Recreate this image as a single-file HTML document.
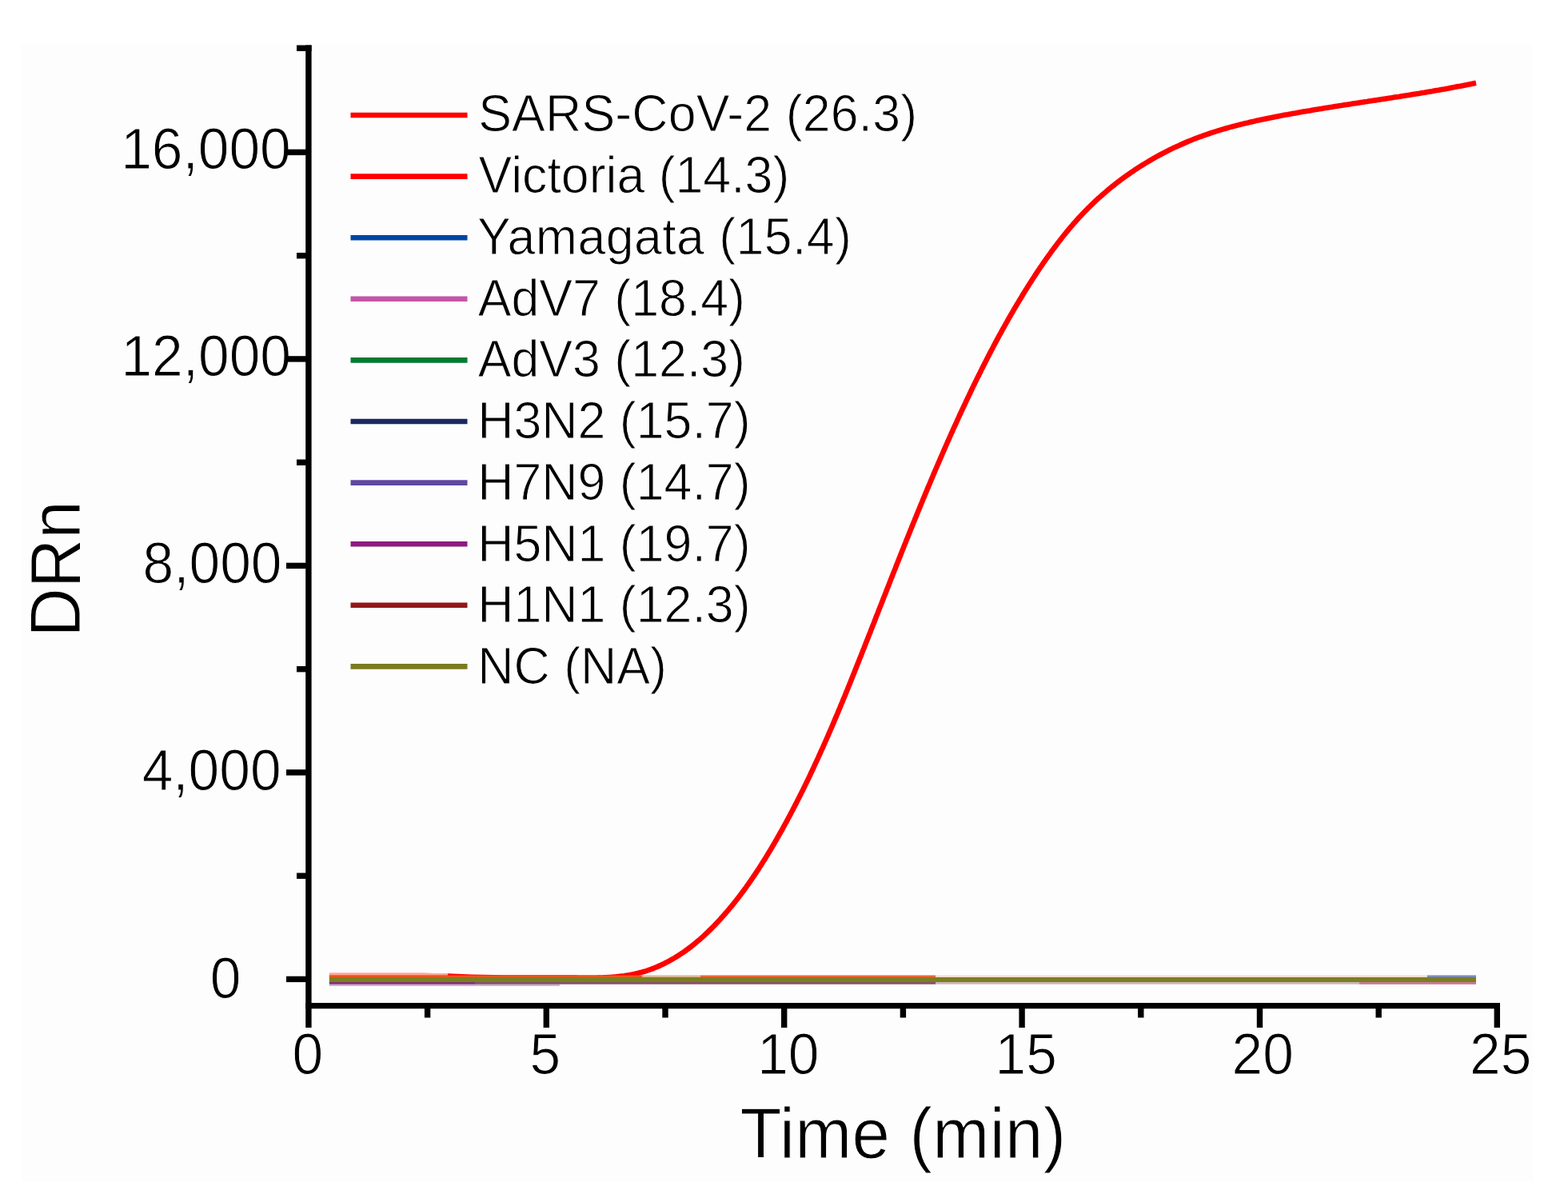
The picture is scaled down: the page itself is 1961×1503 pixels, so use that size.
<!DOCTYPE html>
<html><head><meta charset="utf-8"><title>DRn vs Time</title>
<style>html,body{margin:0;padding:0;background:#fff;width:1961px;height:1503px;overflow:hidden}svg{display:block}</style>
</head><body>
<svg width="1961" height="1503" viewBox="0 0 1961 1503">
<rect x="0" y="0" width="1961" height="1503" fill="#ffffff"/>
<rect x="27" y="55.5" width="1891" height="1422" fill="#fdfdfd"/>
<g font-family='"Liberation Sans", Arial, Helvetica, sans-serif' fill="#000">
<text id="yl0" transform="translate(151.20,210.80) scale(1,1.0410)" font-size="69.5" stroke="#fdfdfd" stroke-width="1.0">16,000</text>
<text id="yl1" transform="translate(151.40,470.00) scale(1,1.0410)" font-size="69.5" stroke="#fdfdfd" stroke-width="1.0">12,000</text>
<text id="yl2" transform="translate(178.60,729.10) scale(1,1.0410)" font-size="69.5" stroke="#fdfdfd" stroke-width="1.0">8,000</text>
<text id="yl3" transform="translate(177.65,988.30) scale(1,1.0410)" font-size="69.5" stroke="#fdfdfd" stroke-width="1.0">4,000</text>
<text id="yl4" transform="translate(262.80,1247.50) scale(1,1.0410)" font-size="69.5" stroke="#fdfdfd" stroke-width="1.0">0</text>
<text id="xl0" transform="translate(365.60,1343.30) scale(1,1.0410)" font-size="69.5" stroke="#fdfdfd" stroke-width="1.0">0</text>
<text id="xl1" transform="translate(662.40,1343.30) scale(1,1.0410)" font-size="69.5" stroke="#fdfdfd" stroke-width="1.0">5</text>
<text id="xl2" transform="translate(947.20,1343.30) scale(1,1.0410)" font-size="69.5" stroke="#fdfdfd" stroke-width="1.0">10</text>
<text id="xl3" transform="translate(1244.60,1343.30) scale(1,1.0410)" font-size="69.5" stroke="#fdfdfd" stroke-width="1.0">15</text>
<text id="xl4" transform="translate(1540.60,1343.30) scale(1,1.0410)" font-size="69.5" stroke="#fdfdfd" stroke-width="1.0">20</text>
<text id="xl5" transform="translate(1838.00,1343.30) scale(1,1.0410)" font-size="69.5" stroke="#fdfdfd" stroke-width="1.0">25</text>
<text id="ttl_y" transform="translate(100.30,796.80) rotate(-90) scale(1,1.0410)" font-size="85.3" stroke="#fdfdfd" stroke-width="1.0">DRn</text>
<text id="ttl_x" transform="translate(925.60,1448.40) scale(1,1.0410)" font-size="85.3" stroke="#fdfdfd" stroke-width="1.0" textLength="407.61">Time (min)</text>
</g>
<g id="axes" stroke="#000" stroke-width="7.4" fill="none" stroke-linecap="butt">
<line x1="385.9" y1="56.5" x2="385.9" y2="1285"/>
<line x1="382.2" y1="1257.6" x2="1876" y2="1257.6"/>
<line x1="358" y1="1224.4" x2="386" y2="1224.4"/>
<line x1="358" y1="965.9" x2="386" y2="965.9"/>
<line x1="358" y1="707.4" x2="386" y2="707.4"/>
<line x1="358" y1="448.9" x2="386" y2="448.9"/>
<line x1="358" y1="190.4" x2="386" y2="190.4"/>
<line x1="371" y1="1095.2" x2="386" y2="1095.2"/>
<line x1="371" y1="836.7" x2="386" y2="836.7"/>
<line x1="371" y1="578.2" x2="386" y2="578.2"/>
<line x1="371" y1="319.7" x2="386" y2="319.7"/>
<line x1="371" y1="60.2" x2="389.6" y2="60.2"/>
<line x1="683.3" y1="1257" x2="683.3" y2="1285"/>
<line x1="980.7" y1="1257" x2="980.7" y2="1285"/>
<line x1="1278.1" y1="1257" x2="1278.1" y2="1285"/>
<line x1="1575.5" y1="1257" x2="1575.5" y2="1285"/>
<line x1="1872.3" y1="1254" x2="1872.3" y2="1285"/>
<line x1="534.6" y1="1257" x2="534.6" y2="1272.5"/>
<line x1="832.0" y1="1257" x2="832.0" y2="1272.5"/>
<line x1="1129.4" y1="1257" x2="1129.4" y2="1272.5"/>
<line x1="1426.8" y1="1257" x2="1426.8" y2="1272.5"/>
<line x1="1724.2" y1="1257" x2="1724.2" y2="1272.5"/>
</g>
<g id="data" fill="none" stroke-linecap="butt">
<line x1="411.8" y1="1231.8" x2="700" y2="1231.8" stroke="#c6b2d8" stroke-width="2.4"/>
<line x1="411.8" y1="1229.3" x2="594" y2="1229.3" stroke="#863070" stroke-width="2.8"/>
<line x1="594" y1="1229.3" x2="1170" y2="1229.3" stroke="#885068" stroke-width="2.8"/>
<line x1="1170" y1="1229.3" x2="1846" y2="1229.3" stroke="#cdb3b8" stroke-width="2.8"/>
<line x1="1700" y1="1229.3" x2="1846" y2="1229.3" stroke="#c77a95" stroke-width="2.8"/>
<line x1="803" y1="1221.0" x2="876" y2="1221.0" stroke="#d9b78f" stroke-width="2.8"/>
<line x1="876" y1="1221.0" x2="1170" y2="1221.0" stroke="#ef6433" stroke-width="2.8"/>
<line x1="1170" y1="1221.0" x2="1846" y2="1221.0" stroke="#f4dccf" stroke-width="2.8"/>
<line x1="1785" y1="1221.0" x2="1846" y2="1221.0" stroke="#7d8cb6" stroke-width="2.8"/>
<path d="M412.0,1220.0 L530.0,1220.0 L560.0,1220.6 L590.0,1221.8 L630.0,1222.6 L690.0,1222.6 L692.5,1222.5 L695.0,1222.5 L697.5,1222.5 L700.0,1222.5 L702.5,1222.5 L705.0,1222.5 L707.5,1222.5 L710.1,1222.5 L712.6,1222.5 L715.1,1222.6 L717.7,1222.6 L720.2,1222.6 L722.7,1222.7 L725.3,1222.7 L727.8,1222.7 L730.3,1222.7 L732.9,1222.7 L735.4,1222.7 L738.0,1222.7 L740.5,1222.7 L743.0,1222.7 L745.6,1222.7 L748.1,1222.6 L750.6,1222.5 L753.2,1222.5 L755.7,1222.4 L758.2,1222.3 L760.7,1222.1 L763.2,1222.0 L765.8,1221.8 L768.3,1221.6 L770.8,1221.4 L773.3,1221.1 L775.7,1220.8 L778.2,1220.5 L780.7,1220.2 L783.2,1219.8 L785.6,1219.4 L788.1,1219.0 L790.5,1218.6 L793.0,1218.1 L795.4,1217.5 L797.8,1216.9 L800.2,1216.3 L802.6,1215.7 L805.0,1215.0 L807.4,1214.3 L809.7,1213.5 L812.1,1212.7 L814.4,1211.8 L816.8,1211.0 L819.1,1210.0 L821.4,1209.1 L823.7,1208.1 L826.0,1207.1 L828.2,1206.0 L830.5,1204.9 L832.7,1203.8 L835.0,1202.6 L837.2,1201.5 L839.4,1200.2 L841.6,1199.0 L843.7,1197.7 L845.9,1196.4 L848.0,1195.1 L850.1,1193.7 L852.2,1192.3 L854.3,1190.9 L856.4,1189.5 L858.4,1188.0 L860.5,1186.5 L862.5,1185.0 L864.5,1183.5 L866.5,1181.9 L868.4,1180.3 L870.4,1178.7 L872.3,1177.1 L874.3,1175.4 L876.2,1173.8 L878.1,1172.1 L880.0,1170.4 L881.8,1168.7 L883.7,1166.9 L885.5,1165.2 L887.3,1163.4 L889.1,1161.6 L890.9,1159.8 L892.7,1158.0 L894.5,1156.2 L896.2,1154.3 L898.0,1152.5 L899.7,1150.6 L901.4,1148.7 L903.1,1146.8 L904.8,1144.9 L906.5,1143.0 L908.1,1141.1 L909.8,1139.2 L911.4,1137.3 L913.0,1135.3 L914.7,1133.4 L916.3,1131.4 L917.8,1129.5 L919.4,1127.5 L921.0,1125.5 L922.5,1123.5 L924.1,1121.5 L925.6,1119.5 L927.1,1117.5 L928.6,1115.5 L930.1,1113.5 L931.6,1111.4 L933.1,1109.4 L934.5,1107.4 L936.0,1105.3 L937.4,1103.2 L938.9,1101.2 L940.3,1099.1 L941.7,1097.0 L943.1,1095.0 L944.5,1092.9 L945.9,1090.8 L947.3,1088.7 L948.7,1086.6 L950.0,1084.5 L951.4,1082.4 L952.7,1080.3 L954.1,1078.1 L955.4,1076.0 L956.7,1073.9 L958.1,1071.7 L959.4,1069.6 L960.7,1067.4 L962.0,1065.3 L963.3,1063.1 L964.6,1061.0 L965.8,1058.8 L967.1,1056.7 L968.4,1054.5 L969.6,1052.3 L970.9,1050.2 L972.1,1048.0 L973.4,1045.8 L974.6,1043.6 L975.8,1041.4 L977.1,1039.2 L978.3,1037.1 L979.5,1034.9 L980.7,1032.7 L981.9,1030.5 L983.1,1028.3 L984.3,1026.1 L985.5,1023.8 L986.7,1021.6 L987.9,1019.4 L989.0,1017.2 L990.2,1015.0 L991.4,1012.8 L992.5,1010.5 L993.7,1008.3 L994.8,1006.1 L996.0,1003.9 L997.1,1001.6 L998.3,999.4 L999.4,997.1 L1000.5,994.9 L1001.7,992.7 L1002.8,990.4 L1003.9,988.2 L1005.0,985.9 L1006.1,983.7 L1007.2,981.4 L1008.3,979.1 L1009.4,976.9 L1010.5,974.6 L1011.6,972.4 L1012.7,970.1 L1013.7,967.8 L1014.8,965.5 L1015.9,963.3 L1017.0,961.0 L1018.0,958.7 L1019.1,956.4 L1020.1,954.2 L1021.2,951.9 L1022.2,949.6 L1023.3,947.3 L1024.3,945.0 L1025.4,942.7 L1026.4,940.4 L1027.4,938.1 L1028.5,935.8 L1029.5,933.6 L1030.5,931.3 L1031.5,929.0 L1032.5,926.7 L1033.6,924.3 L1034.6,922.0 L1035.6,919.7 L1036.6,917.4 L1037.6,915.1 L1038.6,912.8 L1039.6,910.5 L1040.6,908.2 L1041.6,905.9 L1042.6,903.6 L1043.5,901.2 L1044.5,898.9 L1045.5,896.6 L1046.5,894.3 L1047.5,892.0 L1048.4,889.6 L1049.4,887.3 L1050.4,885.0 L1051.3,882.7 L1052.3,880.3 L1053.3,878.0 L1054.2,875.7 L1055.2,873.3 L1056.2,871.0 L1057.1,868.7 L1058.1,866.3 L1059.0,864.0 L1060.0,861.7 L1060.9,859.3 L1061.9,857.0 L1062.8,854.7 L1063.8,852.3 L1064.7,850.0 L1065.6,847.7 L1066.6,845.3 L1067.5,843.0 L1068.5,840.6 L1069.4,838.3 L1070.3,836.0 L1071.3,833.6 L1072.2,831.3 L1073.1,828.9 L1074.1,826.6 L1075.0,824.2 L1075.9,821.9 L1076.9,819.6 L1077.8,817.2 L1078.7,814.9 L1079.6,812.5 L1080.6,810.2 L1081.5,807.8 L1082.4,805.5 L1083.3,803.1 L1084.3,800.8 L1085.2,798.4 L1086.1,796.1 L1087.0,793.8 L1088.0,791.4 L1088.9,789.1 L1089.8,786.7 L1090.7,784.4 L1091.6,782.0 L1092.6,779.7 L1093.5,777.3 L1094.4,775.0 L1095.3,772.6 L1096.2,770.3 L1097.2,767.9 L1098.1,765.6 L1099.0,763.3 L1099.9,760.9 L1100.8,758.6 L1101.8,756.2 L1102.7,753.9 L1103.6,751.5 L1104.5,749.2 L1105.4,746.8 L1106.4,744.5 L1107.3,742.2 L1108.2,739.8 L1109.1,737.5 L1110.0,735.1 L1111.0,732.8 L1111.9,730.4 L1112.8,728.1 L1113.7,725.7 L1114.6,723.4 L1115.6,721.1 L1116.5,718.7 L1117.4,716.4 L1118.3,714.0 L1119.3,711.7 L1120.2,709.4 L1121.1,707.0 L1122.0,704.7 L1123.0,702.3 L1123.9,700.0 L1124.8,697.7 L1125.8,695.3 L1126.7,693.0 L1127.6,690.6 L1128.5,688.3 L1129.5,686.0 L1130.4,683.6 L1131.3,681.3 L1132.3,679.0 L1133.2,676.6 L1134.1,674.3 L1135.1,672.0 L1136.0,669.6 L1137.0,667.3 L1137.9,665.0 L1138.8,662.6 L1139.8,660.3 L1140.7,658.0 L1141.7,655.6 L1142.6,653.3 L1143.6,651.0 L1144.5,648.6 L1145.5,646.3 L1146.4,644.0 L1147.4,641.6 L1148.3,639.3 L1149.3,637.0 L1150.2,634.7 L1151.2,632.3 L1152.1,630.0 L1153.1,627.7 L1154.0,625.4 L1155.0,623.0 L1156.0,620.7 L1156.9,618.4 L1157.9,616.1 L1158.9,613.8 L1159.8,611.4 L1160.8,609.1 L1161.8,606.8 L1162.8,604.5 L1163.7,602.2 L1164.7,599.9 L1165.7,597.5 L1166.7,595.2 L1167.6,592.9 L1168.6,590.6 L1169.6,588.3 L1170.6,586.0 L1171.6,583.7 L1172.6,581.4 L1173.6,579.0 L1174.6,576.7 L1175.6,574.4 L1176.6,572.1 L1177.6,569.8 L1178.6,567.5 L1179.6,565.2 L1180.6,562.9 L1181.6,560.6 L1182.6,558.3 L1183.6,556.0 L1184.6,553.7 L1185.6,551.4 L1186.7,549.1 L1187.7,546.8 L1188.7,544.5 L1189.7,542.2 L1190.8,539.9 L1191.8,537.6 L1192.8,535.3 L1193.9,533.1 L1194.9,530.8 L1196.0,528.5 L1197.0,526.2 L1198.0,523.9 L1199.1,521.6 L1200.1,519.3 L1201.2,517.1 L1202.2,514.8 L1203.3,512.5 L1204.4,510.2 L1205.4,507.9 L1206.5,505.7 L1207.6,503.4 L1208.6,501.1 L1209.7,498.8 L1210.8,496.6 L1211.9,494.3 L1213.0,492.0 L1214.0,489.7 L1215.1,487.5 L1216.2,485.2 L1217.3,482.9 L1218.4,480.7 L1219.5,478.4 L1220.6,476.2 L1221.7,473.9 L1222.8,471.6 L1224.0,469.4 L1225.1,467.1 L1226.2,464.9 L1227.3,462.6 L1228.4,460.4 L1229.6,458.1 L1230.7,455.9 L1231.9,453.6 L1233.0,451.4 L1234.1,449.2 L1235.3,446.9 L1236.4,444.7 L1237.6,442.4 L1238.8,440.2 L1239.9,438.0 L1241.1,435.8 L1242.3,433.5 L1243.4,431.3 L1244.6,429.1 L1245.8,426.9 L1247.0,424.6 L1248.2,422.4 L1249.4,420.2 L1250.6,418.0 L1251.8,415.8 L1253.0,413.6 L1254.2,411.4 L1255.5,409.2 L1256.7,407.0 L1257.9,404.8 L1259.2,402.6 L1260.4,400.4 L1261.6,398.2 L1262.9,396.0 L1264.1,393.8 L1265.4,391.7 L1266.7,389.5 L1267.9,387.3 L1269.2,385.1 L1270.5,383.0 L1271.8,380.8 L1273.1,378.6 L1274.4,376.5 L1275.7,374.3 L1277.0,372.2 L1278.3,370.0 L1279.6,367.8 L1280.9,365.7 L1282.2,363.6 L1283.6,361.4 L1284.9,359.3 L1286.3,357.1 L1287.6,355.0 L1289.0,352.9 L1290.3,350.8 L1291.7,348.6 L1293.1,346.5 L1294.4,344.4 L1295.8,342.3 L1297.2,340.2 L1298.6,338.1 L1300.0,336.0 L1301.4,333.9 L1302.9,331.8 L1304.3,329.7 L1305.7,327.7 L1307.2,325.6 L1308.6,323.5 L1310.1,321.5 L1311.5,319.4 L1313.0,317.4 L1314.5,315.3 L1316.0,313.3 L1317.5,311.2 L1319.0,309.2 L1320.5,307.2 L1322.0,305.2 L1323.5,303.2 L1325.1,301.2 L1326.6,299.2 L1328.2,297.2 L1329.7,295.3 L1331.3,293.3 L1332.9,291.4 L1334.5,289.4 L1336.1,287.5 L1337.7,285.5 L1339.3,283.6 L1341.0,281.7 L1342.6,279.8 L1344.3,277.9 L1346.0,276.1 L1347.6,274.2 L1349.3,272.3 L1351.0,270.5 L1352.7,268.7 L1354.5,266.8 L1356.2,265.0 L1358.0,263.2 L1359.7,261.4 L1361.5,259.6 L1363.3,257.9 L1365.1,256.1 L1366.9,254.4 L1368.7,252.7 L1370.5,250.9 L1372.4,249.2 L1374.2,247.5 L1376.1,245.9 L1378.0,244.2 L1379.9,242.5 L1381.8,240.9 L1383.7,239.3 L1385.6,237.6 L1387.5,236.0 L1389.5,234.4 L1391.4,232.9 L1393.4,231.3 L1395.4,229.7 L1397.4,228.2 L1399.4,226.7 L1401.4,225.1 L1403.4,223.6 L1405.4,222.1 L1407.5,220.7 L1409.5,219.2 L1411.6,217.8 L1413.6,216.3 L1415.7,214.9 L1417.8,213.5 L1419.9,212.1 L1422.0,210.7 L1424.1,209.3 L1426.2,208.0 L1428.4,206.6 L1430.5,205.3 L1432.7,204.0 L1434.8,202.7 L1437.0,201.4 L1439.2,200.1 L1441.3,198.9 L1443.5,197.6 L1445.7,196.4 L1447.9,195.2 L1450.1,194.0 L1452.4,192.8 L1454.6,191.6 L1456.8,190.4 L1459.1,189.3 L1461.3,188.1 L1463.6,187.0 L1465.8,185.9 L1468.1,184.8 L1470.4,183.8 L1472.7,182.7 L1475.0,181.7 L1477.3,180.6 L1479.6,179.6 L1481.9,178.6 L1484.2,177.6 L1486.5,176.6 L1488.8,175.7 L1491.2,174.7 L1493.5,173.8 L1495.9,172.9 L1498.2,172.0 L1500.6,171.1 L1502.9,170.3 L1505.3,169.4 L1507.7,168.6 L1510.0,167.8 L1512.4,167.0 L1514.8,166.2 L1517.2,165.4 L1519.6,164.6 L1522.0,163.9 L1524.4,163.1 L1526.8,162.4 L1529.2,161.7 L1531.6,161.0 L1534.1,160.3 L1536.5,159.6 L1538.9,158.9 L1541.3,158.3 L1543.8,157.6 L1546.2,157.0 L1548.6,156.4 L1551.1,155.7 L1553.5,155.1 L1556.0,154.5 L1558.4,153.9 L1560.9,153.4 L1563.3,152.8 L1565.8,152.2 L1568.2,151.7 L1570.7,151.1 L1573.2,150.6 L1575.6,150.0 L1578.1,149.5 L1580.6,149.0 L1583.0,148.5 L1585.5,148.0 L1588.0,147.5 L1590.5,147.0 L1592.9,146.5 L1595.4,146.0 L1597.9,145.5 L1600.4,145.0 L1602.8,144.6 L1605.3,144.1 L1607.8,143.6 L1610.3,143.2 L1612.7,142.7 L1615.2,142.3 L1617.7,141.8 L1620.2,141.4 L1622.7,140.9 L1625.1,140.5 L1627.6,140.1 L1630.1,139.6 L1632.6,139.2 L1635.1,138.8 L1637.5,138.4 L1640.0,137.9 L1642.5,137.5 L1645.0,137.1 L1647.5,136.7 L1650.0,136.3 L1652.4,135.9 L1654.9,135.5 L1657.4,135.1 L1659.9,134.7 L1662.4,134.3 L1664.9,133.9 L1667.3,133.5 L1669.8,133.1 L1672.3,132.7 L1674.8,132.3 L1677.3,131.9 L1679.8,131.5 L1682.2,131.1 L1684.7,130.8 L1687.2,130.4 L1689.7,130.0 L1692.2,129.6 L1694.7,129.2 L1697.2,128.9 L1699.6,128.5 L1702.1,128.1 L1704.6,127.7 L1707.1,127.3 L1709.6,127.0 L1712.1,126.6 L1714.6,126.2 L1717.0,125.8 L1719.5,125.4 L1722.0,125.1 L1724.5,124.7 L1727.0,124.3 L1729.5,123.9 L1732.0,123.6 L1734.4,123.2 L1736.9,122.8 L1739.4,122.4 L1741.9,122.0 L1744.4,121.6 L1746.9,121.2 L1749.3,120.9 L1751.8,120.5 L1754.3,120.1 L1756.8,119.7 L1759.3,119.3 L1761.8,118.9 L1764.3,118.5 L1766.7,118.1 L1769.2,117.7 L1771.7,117.3 L1774.2,116.9 L1776.7,116.5 L1779.1,116.1 L1781.6,115.7 L1784.1,115.2 L1786.6,114.8 L1789.1,114.4 L1791.5,114.0 L1794.0,113.5 L1796.5,113.1 L1799.0,112.7 L1801.5,112.2 L1803.9,111.8 L1806.4,111.4 L1808.9,110.9 L1811.4,110.5 L1813.9,110.0 L1816.3,109.5 L1818.8,109.1 L1821.3,108.6 L1823.8,108.1 L1826.2,107.7 L1828.7,107.2 L1831.2,106.7 L1833.6,106.2 L1836.1,105.7 L1838.6,105.2 L1841.1,104.7 L1843.5,104.2 L1846.0,103.7" stroke="#ff0000" stroke-width="6.6" stroke-linejoin="round"/>
<line x1="411.8" y1="1218.4" x2="560" y2="1218.4" stroke="#ffa896" stroke-width="2.8"/>
<line x1="411.8" y1="1221.1" x2="803" y2="1221.1" stroke="#e8561c" stroke-width="3.0"/>
<line x1="411.8" y1="1225.1" x2="1846" y2="1225.1" stroke="#7a7f22" stroke-width="6.0"/>
</g>
<g id="legend_lines" stroke-width="6.6" fill="none">
<line x1="438.5" y1="144.0" x2="584.5" y2="144.0" stroke="#ff0000"/>
<line x1="438.5" y1="220.6" x2="584.5" y2="220.6" stroke="#ff0000"/>
<line x1="438.5" y1="297.2" x2="584.5" y2="297.2" stroke="#0046a2"/>
<line x1="438.5" y1="373.8" x2="584.5" y2="373.8" stroke="#c455a6"/>
<line x1="438.5" y1="450.4" x2="584.5" y2="450.4" stroke="#007a33"/>
<line x1="438.5" y1="527.0" x2="584.5" y2="527.0" stroke="#1a2a60"/>
<line x1="438.5" y1="603.6" x2="584.5" y2="603.6" stroke="#5f48a0"/>
<line x1="438.5" y1="680.2" x2="584.5" y2="680.2" stroke="#8c1a80"/>
<line x1="438.5" y1="756.8" x2="584.5" y2="756.8" stroke="#901818"/>
<line x1="438.5" y1="833.4" x2="584.5" y2="833.4" stroke="#7a7a20"/>
</g>
<g font-family='"Liberation Sans", Arial, Helvetica, sans-serif' fill="#000">
<text id="lg0" transform="translate(598.15,164.30) scale(1,1.0410)" font-size="62.65" stroke="#fdfdfd" stroke-width="1.0" textLength="548.86">SARS-CoV-2 (26.3)</text>
<text id="lg1" transform="translate(598.50,241.07) scale(1,1.0410)" font-size="62.65" stroke="#fdfdfd" stroke-width="1.0">Victoria (14.3)</text>
<text id="lg2" transform="translate(597.00,317.84) scale(1,1.0410)" font-size="62.65" stroke="#fdfdfd" stroke-width="1.0" textLength="467.96">Yamagata (15.4)</text>
<text id="lg3" transform="translate(597.70,394.61) scale(1,1.0410)" font-size="62.65" stroke="#fdfdfd" stroke-width="1.0">AdV7 (18.4)</text>
<text id="lg4" transform="translate(597.70,471.38) scale(1,1.0410)" font-size="62.65" stroke="#fdfdfd" stroke-width="1.0">AdV3 (12.3)</text>
<text id="lg5" transform="translate(597.30,548.15) scale(1,1.0410)" font-size="62.65" stroke="#fdfdfd" stroke-width="1.0">H3N2 (15.7)</text>
<text id="lg6" transform="translate(597.30,624.92) scale(1,1.0410)" font-size="62.65" stroke="#fdfdfd" stroke-width="1.0">H7N9 (14.7)</text>
<text id="lg7" transform="translate(597.30,701.69) scale(1,1.0410)" font-size="62.65" stroke="#fdfdfd" stroke-width="1.0">H5N1 (19.7)</text>
<text id="lg8" transform="translate(597.30,778.46) scale(1,1.0410)" font-size="62.65" stroke="#fdfdfd" stroke-width="1.0">H1N1 (12.3)</text>
<text id="lg9" transform="translate(597.30,855.23) scale(1,1.0410)" font-size="62.65" stroke="#fdfdfd" stroke-width="1.0">NC (NA)</text>
</g>
</svg>
</body></html>
